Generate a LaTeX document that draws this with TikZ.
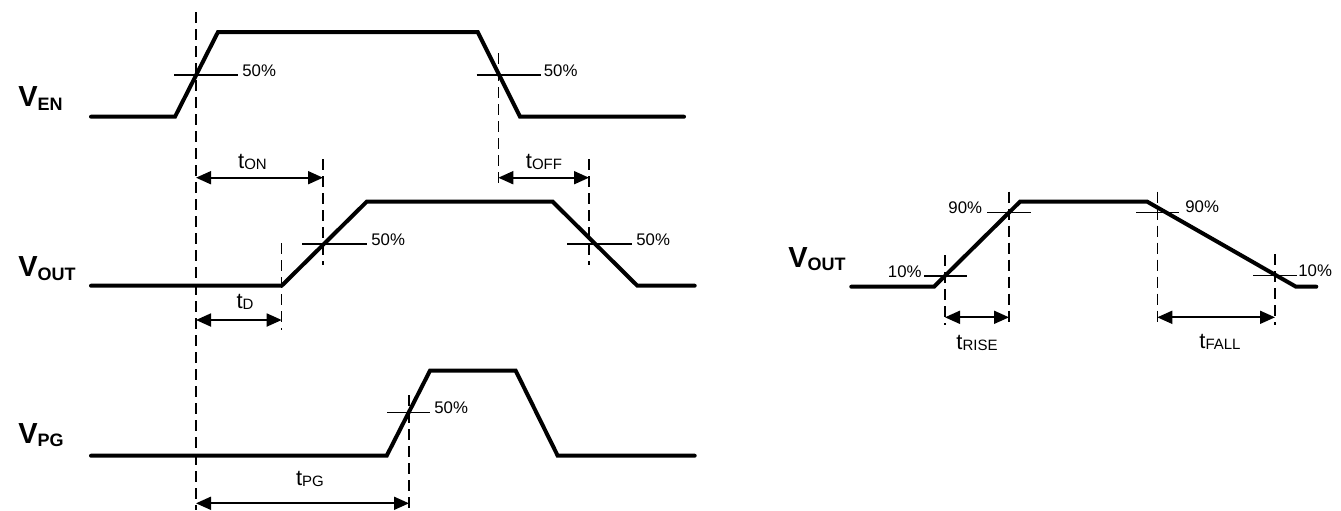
\documentclass[tikz,border=0pt]{standalone}
\usepackage{fontspec}
\setmainfont{Liberation Sans}
\usetikzlibrary{arrows.meta}
\newcommand{\bigsig}[2]{{\fontsize{14.5}{16}\selectfont\bfseries #1}\raisebox{-1.8pt}{\fontsize{9}{10}\selectfont\bfseries #2}}
\newcommand{\tsig}[2]{{\fontsize{11}{12}\selectfont #1}\raisebox{-0.8pt}{\fontsize{7.5}{8}\selectfont #2}}
\tikzset{
  wave/.style={line width=2pt, line cap=round, line join=miter},
  guide/.style={line width=0.75pt, dash pattern=on 5.5pt off 3pt},
  lvl/.style={line width=0.55pt},
  dim/.style={line width=0.9pt, {Triangle[length=7.5pt,width=6.5pt]}-{Triangle[length=7.5pt,width=6.5pt]}},
  pct/.style={inner sep=0pt, font=\fontsize{8.4}{9}\selectfont},
  lbl/.style={inner sep=0pt}
}
\begin{document}
\begin{tikzpicture}[x=0.5pt, y=-0.5pt]
\useasboundingbox (0,0) rectangle (1341,510);

% ---------- signal labels ----------
\node[lbl, anchor=base west] (ven)  at (18,106.7) {\bigsig{V}{EN}};
\node[lbl, anchor=base west] (vout) at (18,276.7) {\bigsig{V}{OUT}};
\node[lbl, anchor=base west] (vpg)  at (18,443.3) {\bigsig{V}{PG}};
\node[lbl, anchor=base west] (vout2) at (788,267.3) {\bigsig{V}{OUT}};

% ---------- waveforms ----------
\draw[wave] (91,116.7) -- (175,116.7) -- (218,32) -- (477.7,32) -- (520,116.7) -- (684,116.7);
\draw[wave] (91,285.7) -- (281.7,285.7) -- (366.7,201.7) -- (552.7,201.7) -- (637.3,285.7) -- (694.7,285.7);
\draw[wave] (91,455.7) -- (386.7,455.7) -- (430,370.7) -- (515.7,370.7) -- (557.7,455.7) -- (694.7,455.7);
\draw[wave] (851.3,286.7) -- (934,286.7) -- (1020,201.7) -- (1147.3,201.7) -- (1296,286.7) -- (1316.3,286.7);

% ---------- guide (dashed) lines ----------
\coordinate (g1t) at (196,12);     \coordinate (g1b) at (196,510);
\coordinate (g2t) at (498.3,53);   \coordinate (g2b) at (498.3,188);
\coordinate (g3t) at (323,159);    \coordinate (g3b) at (323,265);
\coordinate (g4t) at (589,159);    \coordinate (g4b) at (589,265);
\coordinate (g5t) at (281.7,243);  \coordinate (g5b) at (281.7,330);
\coordinate (g6t) at (409,395);    \coordinate (g6b) at (409,510);
\coordinate (r1t) at (945,255);    \coordinate (r1b) at (945,325);
\coordinate (r2t) at (1009,191.7); \coordinate (r2b) at (1009,325);
\coordinate (r3t) at (1157.3,191.7); \coordinate (r3b) at (1157.3,325);
\coordinate (r4t) at (1275,254);   \coordinate (r4b) at (1275,325);
\foreach \g in {g1,g2,g3,g4,g5,g6,r1,r2,r3,r4}
  \draw[guide] (\g t) -- (\g b);

% ---------- threshold levels ----------
\draw[lvl] (174,75) -- (238,75);
\node[pct, anchor=base west] (p1) at (242,76.5) {50\%};
\draw[lvl] (476.7,75) -- (541,75);
\node[pct, anchor=base west] (p2) at (543.5,76.5) {50\%};
\draw[lvl] (302,244) -- (367,244);
\node[pct, anchor=base west] (p3) at (371,245) {50\%};
\draw[lvl] (567.3,244) -- (631.7,244);
\node[pct, anchor=base west] (p4) at (636,245) {50\%};
\draw[lvl] (387.3,412.7) -- (430,412.7);
\node[pct, anchor=base west] (p5) at (434,413.5) {50\%};

\draw[lvl] (924,276) -- (967.3,276);
\node[pct, anchor=base east] (p6) at (922,277) {10\%};
\draw[lvl] (987.3,212.3) -- (1030.7,212.3);
\node[pct, anchor=base east] (p7) at (982.5,213) {90\%};
\draw[lvl] (1136,212.3) -- (1179.3,212.3);
\node[pct, anchor=base west] (p8) at (1185,212.5) {90\%};
\draw[lvl] (1253.3,275.7) -- (1297.3,275.7);
\node[pct, anchor=base west] (p9) at (1298,276.7) {10\%};

% ---------- dimension arrows ----------
\coordinate (on1) at (196,177.7);   \coordinate (on2) at (323,177.7);
\coordinate (off1) at (498.3,177.7); \coordinate (off2) at (589,177.7);
\coordinate (d1) at (196,320);      \coordinate (d2) at (281.7,320);
\coordinate (pg1) at (196,503.3);   \coordinate (pg2) at (409,503.3);
\coordinate (ri1) at (945,317.3);   \coordinate (ri2) at (1009,317.3);
\coordinate (fa1) at (1157.3,317.3); \coordinate (fa2) at (1275,317.3);
\draw[dim] (on1) -- (on2);
\draw[dim] (off1) -- (off2);
\draw[dim] (d1) -- (d2);
\draw[dim] (pg1) -- (pg2);
\draw[dim] (ri1) -- (ri2);
\draw[dim] (fa1) -- (fa2);

\node[lbl, anchor=base] (ton)  at (252.5,168) {\tsig{t}{ON}};
\node[lbl, anchor=base] (toff) at (544,168.3) {\tsig{t}{OFF}};
\node[lbl, anchor=base] (td)   at (245,308.3) {\tsig{t}{D}};
\node[lbl, anchor=base] (tpg)  at (310,485) {\tsig{t}{PG}};
\node[lbl, anchor=base] (tri)  at (977,349) {\tsig{t}{RISE}};
\node[lbl, anchor=base] (tfa)  at (1220,348.3) {\tsig{t}{FALL}};
\end{tikzpicture}
\end{document}
